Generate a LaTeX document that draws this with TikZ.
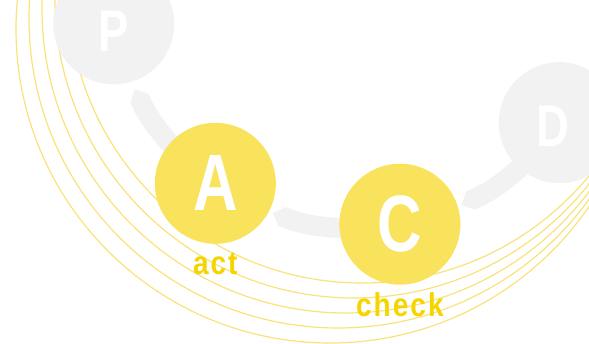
\documentclass[tikz,border=0pt]{standalone}
\usepackage{fontspec}
\usetikzlibrary{calc, arrows.meta, backgrounds}
\newfontfamily\letterfont[FakeStretch=0.77]{Liberation Sans}
\newfontfamily\wordfont[FakeStretch=0.85, LetterSpace=6]{Liberation Sans}
\definecolor{pgray}{HTML}{F2F2F2}
\definecolor{pyellow}{HTML}{F9E25C}
\definecolor{wyellow}{HTML}{F6D400}
\definecolor{ryellow}{HTML}{F9E27A}

\begin{document}
\begin{tikzpicture}[x=1pt, y=1pt,
    stage/.style={circle, minimum size=121pt, inner sep=0pt, text=white, font=\letterfont\bfseries\fontsize{80}{80}\selectfont},
    done/.style={circle, minimum size=121pt, inner sep=0pt, fill=pgray},
    gletter/.style={inner sep=0pt, text=white, font=\letterfont\bfseries\fontsize{59}{59}\selectfont},
    todo/.style={stage, fill=pyellow},
    band/.style={pgray, line width=20pt, -{Triangle Cap}},
    ring/.style={ryellow, line width=1.2pt},
    word/.style={text=wyellow, font=\wordfont\bfseries\fontsize{33}{33}\selectfont, inner sep=0pt, anchor=base},
  ]
  \useasboundingbox (0,0) rectangle (589,344);
  \coordinate (O) at (357,363);

  \node[done, label={[gletter, yshift=-7pt]center:P}] (P) at ($(O)+(190:247)$) {};
  \node[todo] (A) at ($(O)+(235:247)$) {A};
  \node[todo] (C) at ($(O)+(280:247)$) {C};
  \node[done, label={[gletter, xshift=-6pt, yshift=-4pt]center:D}] (D) at ($(O)+(325:247)$) {};

  \node[word] (act) at ($(A.south)+(0,-30)$) {act};
  \node[word] (check) at ($(C.south)+(0,-32)$) {check};

  \begin{scope}[on background layer]
    \clip (0,0) rectangle (589,344);
    % rings
    \foreach \k in {0,...,4}
      \draw[ring] ($(330,315)+\k*(8,10)$) circle[radius={314pt-5pt*\k}];
    \draw[band] (D.center) arc[start angle=325, end angle=295, radius=247pt];
    \draw[band] (C.center) arc[start angle=280, end angle=250, radius=247pt];
    \draw[band] (A.center) arc[start angle=235, end angle=206, radius=247pt];
  \end{scope}
\end{tikzpicture}
\end{document}
